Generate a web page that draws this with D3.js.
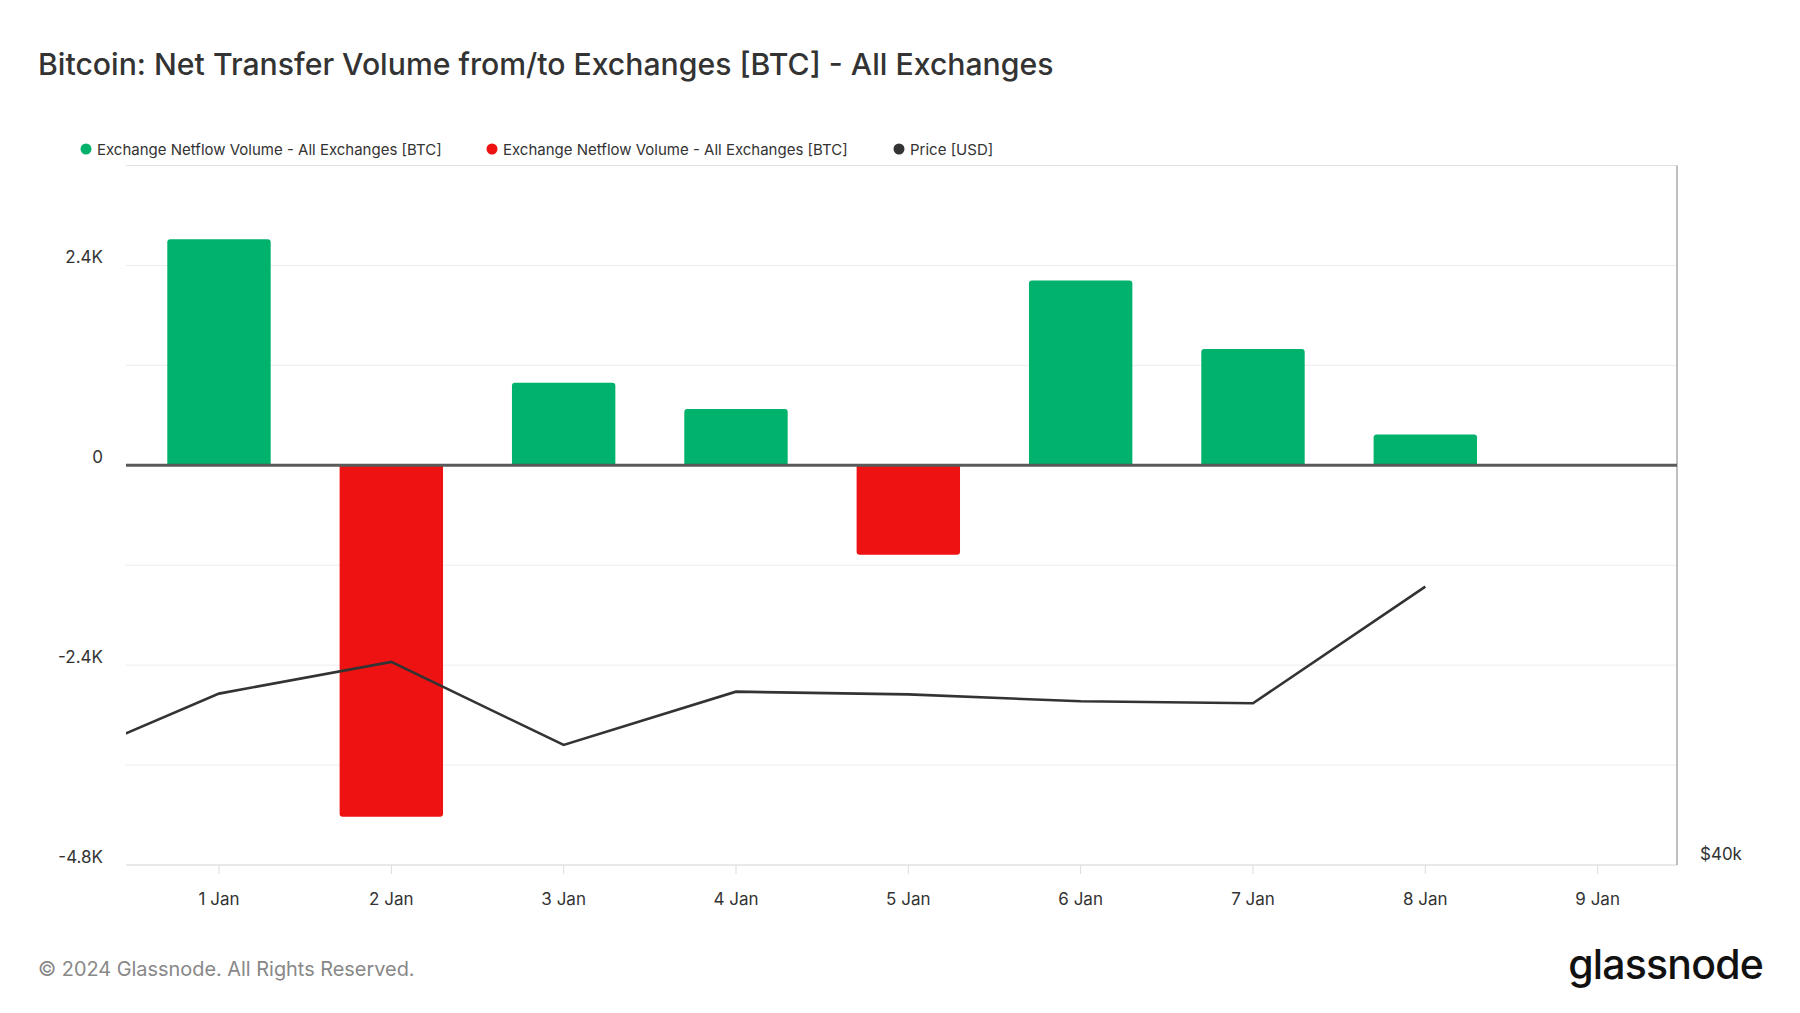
<!DOCTYPE html>
<html><head><meta charset="utf-8">
<script src="https://cdn.jsdelivr.net/npm/d3@7"></script>
<style>
body{margin:0;background:#fff;}
svg{display:block;font-family:Inter,"Noto Sans",sans-serif;}
</style></head>
<body><svg id="c" width="1800" height="1013"></svg>
<script>
// ---- data ----
const dates = ["2024-01-01","2024-01-02","2024-01-03","2024-01-04","2024-01-05","2024-01-06","2024-01-07","2024-01-08"];
const netflow = [2715, -4220, 990, 675, -1075, 2220, 1395, 370];
const priceDates = ["2023-12-31","2024-01-01","2024-01-02","2024-01-03","2024-01-04","2024-01-05","2024-01-06","2024-01-07","2024-01-08"];
const price = [42270, 44180, 45000, 42850, 44230, 44160, 43980, 43930, 46950];
const xTickLabels = ["1 Jan","2 Jan","3 Jan","4 Jan","5 Jan","6 Jan","7 Jan","8 Jan","9 Jan"];
const yTickValues = [2400, 0, -2400, -4800];
const yTickLabels = ["2.4K","0","-2.4K","-4.8K"];
const yGridValues = [2400, 1200, 0, -1200, -2400, -3600, -4800];
const legendLabels = ["Exchange Netflow Volume - All Exchanges [BTC]","Exchange Netflow Volume - All Exchanges [BTC]","Price [USD]"];
const title = "Bitcoin: Net Transfer Volume from/to Exchanges [BTC] - All Exchanges";

const GREEN="#00b26b", RED="#ee1212", LINE="#333333";
const parse = d3.utcParse("%Y-%m-%d");
const svg = d3.select("#c");
const L=126, R=1677, T=165.5, B=865;

const x = d3.scaleUtc()
  .domain([new Date(Date.UTC(2023,11,31,11,3)), new Date(Date.UTC(2024,0,9,11,3))])
  .range([L,R]);
const y = d3.scaleLinear().domain([-4800,3600]).range([B,T]);
const yp = d3.scaleLinear().domain([39740,57860]).range([B,T]);

// title
svg.append("text").attr("x",38).attr("y",75).attr("fill","#333")
  .attr("font-size",30.2).attr("font-weight",500).text(title);

// gridlines
svg.append("g").selectAll("line").data(yGridValues).join("line")
  .attr("x1",L).attr("x2",R).attr("y1",d=>y(d)).attr("y2",d=>y(d))
  .attr("stroke","#ececec").attr("stroke-width",1);
// top border
svg.append("line").attr("x1",L).attr("x2",R).attr("y1",T).attr("y2",T).attr("stroke","#e2e2e2");
// bottom axis line
svg.append("line").attr("x1",L).attr("x2",R).attr("y1",B).attr("y2",B).attr("stroke","#dcdcdc");
// right border
svg.append("line").attr("x1",R).attr("x2",R).attr("y1",T).attr("y2",B).attr("stroke","#aaaaaa").attr("stroke-width",1.5);

// y labels
svg.append("g").selectAll("text").data(yTickValues).join("text")
  .attr("x",103).attr("y",d=>y(d)-2).attr("text-anchor","end")
  .attr("fill","#333").attr("font-size",17).text((d,i)=>yTickLabels[i]);

// x axis
const xTicks = xTickLabels.map((t,i)=>d3.utcDay.offset(parse("2024-01-01"),i));
const xa = svg.append("g");
xa.selectAll("line").data(xTicks).join("line")
  .attr("x1",d=>x(d)).attr("x2",d=>x(d)).attr("y1",B).attr("y2",B+9).attr("stroke","#dcdcdc");
xa.selectAll("text").data(xTicks).join("text")
  .attr("x",d=>x(d)).attr("y",905).attr("text-anchor","middle")
  .attr("fill","#333").attr("font-size",17).text((d,i)=>xTickLabels[i]);

// right axis label
svg.append("text").attr("x",1700).attr("y",860).attr("fill","#333").attr("font-size",17).text("$40k");

// bars
const bw = 0.6*(x(parse("2024-01-02"))-x(parse("2024-01-01")));
const r = 3;
function barPath(cx,v){
  const x0=cx-bw/2, x1=cx+bw/2, y0=y(0), y1=y(v);
  if(v>=0){
    return `M${x0},${y0}V${y1+r}Q${x0},${y1} ${x0+r},${y1}H${x1-r}Q${x1},${y1} ${x1},${y1+r}V${y0}Z`;
  } else {
    return `M${x0},${y0}V${y1-r}Q${x0},${y1} ${x0+r},${y1}H${x1-r}Q${x1},${y1} ${x1},${y1-r}V${y0}Z`;
  }
}
svg.append("g").selectAll("path").data(netflow).join("path")
  .attr("d",(v,i)=>barPath(x(parse(dates[i])),v))
  .attr("fill",v=>v>=0?GREEN:RED);

// zero line
svg.append("line").attr("x1",L).attr("x2",R).attr("y1",y(0)).attr("y2",y(0))
  .attr("stroke","#5a5a5a").attr("stroke-width",3);

// price line
svg.append("clipPath").attr("id","clip").append("rect").attr("x",L).attr("y",T).attr("width",R-L).attr("height",B-T);
const line = d3.line().x((d,i)=>x(parse(priceDates[i]))).y(d=>yp(d));
svg.append("path").attr("clip-path","url(#clip)").attr("d",line(price))
  .attr("fill","none").attr("stroke",LINE).attr("stroke-width",2.6).attr("stroke-linejoin","miter");

// legend
const legColors=[GREEN,RED,LINE];
const legX=[86,492,899];
const lg = svg.append("g");
legendLabels.forEach((t,i)=>{
  lg.append("circle").attr("cx",legX[i]).attr("cy",149).attr("r",5.5).attr("fill",legColors[i]);
  lg.append("text").attr("x",legX[i]+11).attr("y",155).attr("fill","#333").attr("font-size",15).text(t);
});

// footer
svg.append("text").attr("x",38).attr("y",976).attr("fill","#888").attr("font-size",19.9).text("© 2024 Glassnode. All Rights Reserved.");
svg.append("text").attr("x",1763).attr("y",979).attr("text-anchor","end").attr("fill","#111")
  .attr("font-size",41).attr("font-weight",500).attr("letter-spacing",-0.8).text("glassnode");
</script></body></html>
